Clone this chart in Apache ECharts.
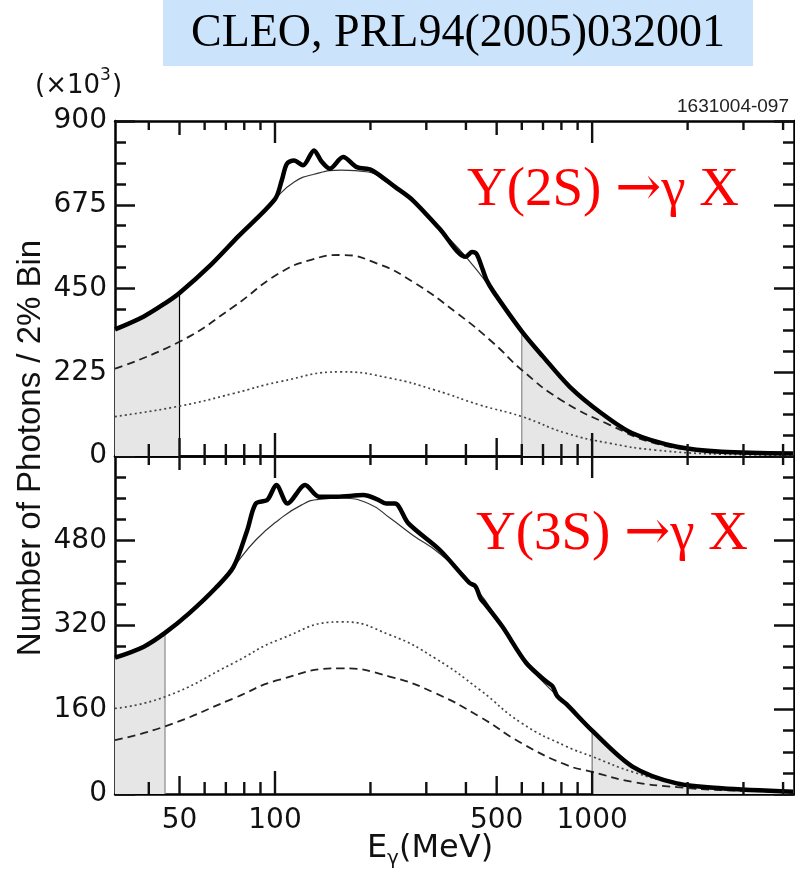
<!DOCTYPE html>
<html>
<head>
<meta charset="utf-8">
<script src="https://cdn.jsdelivr.net/npm/echarts@6/dist/echarts.min.js"></script>
<style>
  html, body { margin: 0; padding: 0; background: #fff; }
  #chart { width: 795px; height: 875px; }
</style>
</head>
<body>
<div id="chart"></div>
<script>
// x axis (E_gamma, MeV), log scale
var xMin = 31.3, xMax = 4330;
var minorTicksX = [40, 60, 70, 80, 90, 200, 300, 400, 600, 700, 800, 900, 2000, 3000, 4000];
var midTicksX = [50, 500];
var majorTicksX = [100, 1000];
var labelsX = [50, 100, 500, 1000];

// y axes (x10^3 photons)
var yMax2S = 900, yStep2S = 225;
var yMax3S = 640, yStep3S = 160;

// Y(2S) panel
var obs2S = [[31.3,340],[38.6,375],[45,410],[50,438],[63,515],[76.6,590],[100,690],[105,740],[109,785],
  [114.8,794],[122.6,781],[132.8,821],[140,792],[149,772],[164,803],[181,776],[202,768],[239,723],
  [272,687],[330,611],[400,535],[418,548],[432,543],[450,505],[465,472],[489,441],[600,335],[700,267],
  [850,186],[1070,115],[1340,61],[1850,25],[2560,11.5],[4300,7]];
var fit2S = [[31.3,340],[38.6,375],[45,410],[50,438],[63,515],[76.6,590],[99,687],[115,736],[132.8,757],
  [162,768],[197,763],[224,736],[272,687],[330,611],[400,535],[489,441],[600,335],[700,267],[850,186],
  [1070,115],[1340,61],[1850,25],[2560,11.5],[4300,7]];
var dashed2S = [[31.3,235],[50,307],[74,401],[102.7,490],[130,527],[162,540],[210,517],[272,468],
  [376,383],[489,303],[600,231],[800,150],[1140,83],[1580,34],[2200,16],[4300,5]];
var dotted2S = [[31.3,106],[50,134],[74,168],[102.7,199],[162,226],[231,209],[320,177],[443,137],
  [600,106],[830,61],[1140,34],[1580,16],[2560,5],[4300,2]];
var cuts2S = [50, 600];

// Y(3S) panel
var obs3S = [[31.3,258],[38.6,279],[45,305],[53.6,342],[65,390],[74,430],[81.8,500],[87,550],[94.6,557],
  [101,585],[109.5,550],[124.5,585],[137.6,563],[156.6,563],[190,566],[210,558],[224,550],[239,550],
  [263,513],[331,462],[410,400],[429,393],[445,370],[458,361],[521,317],[620,248],[720,212],[750,204],
  [775,186],[830,170],[1000,120],[1340,52],[1850,20],[2560,11],[4300,4.4]];
var fit3S = [[31.3,258],[38.6,279],[45,305],[53.6,342],[65,390],[74,430],[87,481],[102.7,519],[121,547],
  [137.6,558],[162,560],[197,550],[231,522],[272,490],[331,455],[429,390],[521,317],[620,248],[830,168],
  [1000,120],[1340,52],[1850,20],[2560,11],[4300,4.4]];
var dotted3S = [[31.3,162],[45,184],[74,248],[102.7,292],[162,326],[231,301],[320,257],[443,197],
  [600,134],[830,90],[1000,71],[1340,42],[1850,20],[2560,9],[4300,4]];
var dashed3S = [[31.3,102],[45,128],[74,181],[102.7,216],[162,238],[231,222],[320,191],[443,146],
  [600,96],[830,55],[1000,42],[1340,23],[1850,13],[2560,7.5],[4300,4]];
var cuts3S = [45, 1000];

var gridLeft = 115, gridW = 679;
var labelFont = 'DejaVu Sans';
var inkColor = '#111';
var frame = { show: true, onZero: false, lineStyle: { color: '#000', width: 2.5 } };

function makeX(grid, pos, labels) {
  return {
    type: 'log', logBase: 10, gridIndex: grid, position: pos, min: xMin, max: xMax,
    axisLine: frame, splitLine: { show: false }, axisTick: { show: false },
    axisLabel: labels ? {
      show: true, customValues: labels, margin: 13, color: '#111',
      fontSize: 28, fontFamily: labelFont,
      formatter: function (v) { return String(Math.round(v)); }
    } : { show: false }
  };
}

// major y axis: frame, labels, long inward ticks
function makeY(grid, pos, max, interval, labels) {
  return {
    type: 'value', gridIndex: grid, position: pos, min: 0, max: max, interval: interval,
    axisLine: frame, splitLine: { show: false },
    axisTick: { show: true, inside: true, length: 20, lineStyle: { color: inkColor, width: 2.5 } },
    axisLabel: labels ? {
      show: true, margin: 8, color: '#111', fontSize: 28, fontFamily: labelFont,
      formatter: function (v) { return v === max && grid === 1 ? '' : String(v); }
    } : { show: false }
  };
}

// minor y ticks: a second axis on the same side with a quarter interval
function makeYMinor(grid, pos, max, interval) {
  return {
    type: 'value', gridIndex: grid, position: pos, min: 0, max: max, interval: interval / 4,
    axisLine: { show: false, onZero: false }, splitLine: { show: false },
    axisTick: { show: true, inside: true, length: 11, lineStyle: { color: inkColor, width: 2.5 } },
    axisLabel: { show: false }
  };
}

var xAxes = [makeX(0, 'bottom', null), makeX(0, 'top', null), makeX(1, 'bottom', labelsX), makeX(1, 'top', null)];
var yAxes = [
  makeY(0, 'left', yMax2S, yStep2S, true), makeY(0, 'right', yMax2S, yStep2S, false),
  makeYMinor(0, 'left', yMax2S, yStep2S), makeYMinor(0, 'right', yMax2S, yStep2S),
  makeY(1, 'left', yMax3S, yStep3S, true), makeY(1, 'right', yMax3S, yStep3S, false),
  makeYMinor(1, 'left', yMax3S, yStep3S), makeYMinor(1, 'right', yMax3S, yStep3S)
];

// x ticks on bottom and top edges, pointing inward; each item sits mid-panel
function xTickSeries(xi, yi, yMax) {
  var vals = [], lens = [];
  [[minorTicksX, 12, 9], [midTicksX, 18, 14], [majorTicksX, 23, 22]].forEach(function (set) {
    set[0].forEach(function (v) { vals.push([v, yMax / 2]); lens.push([set[1], set[2]]); });
  });
  return {
    type: 'custom', xAxisIndex: xi, yAxisIndex: yi, z: 10,
    data: vals,
    renderItem: function (params, api) {
      var x = api.value(0);
      var lo = api.coord([x, 0]), hi = api.coord([x, yMax]);
      var len = lens[params.dataIndex];
      return { type: 'group', children: [
        { type: 'rect', shape: { x: lo[0] - 1.2, y: lo[1] - len[0], width: 2.4, height: len[0] }, style: { fill: inkColor } },
        { type: 'rect', shape: { x: hi[0] - 1.2, y: hi[1], width: 2.4, height: len[1] }, style: { fill: inkColor } }
      ] };
    }
  };
}

function valueAt(arr, x) {
  for (var i = 0; i < arr.length; i++) if (arr[i][0] === x) return arr[i][1];
  return 0;
}

function panel(xi, yi, obs, fit, dashed, dotted, cuts, lineColors) {
  var base = { type: 'line', xAxisIndex: xi, yAxisIndex: yi, symbol: 'none' };
  var left = obs.filter(function (p) { return p[0] <= cuts[0]; });
  var right = obs.filter(function (p) { return p[0] >= cuts[1]; });
  var list = [];
  [left, right].forEach(function (d) {
    list.push(Object.assign({}, base, { data: d, smooth: 0.3, lineStyle: { opacity: 0 },
      areaStyle: { color: '#e6e6e6', opacity: 1 }, z: 1 }));
  });
  cuts.forEach(function (c, k) {
    list.push(Object.assign({}, base, { data: [[c, 0], [c, valueAt(obs, c)]],
      lineStyle: { color: lineColors[k], width: 1.2 }, z: 2 }));
  });
  list.push(Object.assign({}, base, { data: dotted, smooth: 0.5,
    lineStyle: { color: '#444', width: 1.7, type: [2, 3] }, z: 3 }));
  list.push(Object.assign({}, base, { data: dashed, smooth: 0.5,
    lineStyle: { color: '#222', width: 1.8, type: [8, 5] }, z: 3 }));
  list.push(Object.assign({}, base, { data: fit, smooth: 0.5,
    lineStyle: { color: '#333', width: 1.2 }, z: 4 }));
  list.push(Object.assign({}, base, { data: obs, smooth: 0.3,
    lineStyle: { color: '#000', width: 4.5 }, z: 5 }));
  return list;
}

var series = []
  .concat(panel(0, 0, obs2S, fit2S, dashed2S, dotted2S, cuts2S, ['#000', '#888']))
  .concat(panel(2, 4, obs3S, fit3S, dashed3S, dotted3S, cuts3S, ['#888', '#777']))
  .concat([xTickSeries(0, 0, yMax2S), xTickSeries(2, 4, yMax3S)]);

var redRich = { a: { font: '55px "DejaVu Serif"', fill: '#ff0000' } };

var chart = echarts.init(document.getElementById('chart'), null, { renderer: 'canvas' });
chart.setOption({
  animation: false,
  backgroundColor: '#fff',
  tooltip: { show: false },
  grid: [
    { left: gridLeft, top: 121, width: gridW, height: 335 },
    { left: gridLeft, top: 456, width: gridW, height: 338 }
  ],
  xAxis: xAxes,
  yAxis: yAxes,
  series: series,
  graphic: [
    { type: 'rect', shape: { x: 163, y: 0, width: 590, height: 66 }, style: { fill: '#cce4fb' } },
    { type: 'text', x: 458, y: 34, style: { text: 'CLEO, PRL94(2005)032001', fill: '#000',
      font: '46px "Liberation Serif"', align: 'center', verticalAlign: 'middle' } },
    { type: 'text', x: 789, y: 107, style: { text: '1631004-097', fill: '#222',
      font: '19px "Liberation Sans"', align: 'right', verticalAlign: 'middle' } },
    { type: 'text', x: 35, y: 86, style: { text: '(×10', fill: '#111',
      font: '26px "DejaVu Sans"', align: 'left', verticalAlign: 'middle' } },
    { type: 'text', x: 100, y: 76, style: { text: '3', fill: '#111',
      font: '17px "DejaVu Sans"', align: 'left', verticalAlign: 'middle' } },
    { type: 'text', x: 112, y: 86, style: { text: ')', fill: '#111',
      font: '26px "DejaVu Sans"', align: 'left', verticalAlign: 'middle' } },
    { type: 'text', x: 31, y: 448, rotation: Math.PI / 2, style: { text: 'Number of Photons / 2% Bin',
      fill: '#111', font: '33px "Liberation Sans"', align: 'center', verticalAlign: 'middle' } },
    { type: 'text', x: 367, y: 849, style: { text: 'E', fill: '#111',
      font: '32px "DejaVu Sans"', align: 'left', verticalAlign: 'middle' } },
    { type: 'text', x: 387, y: 859, style: { text: 'γ', fill: '#111',
      font: '20px "DejaVu Sans"', align: 'left', verticalAlign: 'middle' } },
    { type: 'text', x: 399, y: 849, style: { text: '(MeV)', fill: '#111',
      font: '32px "DejaVu Sans"', align: 'left', verticalAlign: 'middle' } },
    { type: 'text', x: 467, y: 191, style: { text: 'Υ(2S) {a|→}γ X', fill: '#ff0000', rich: redRich,
      font: '55px "Liberation Serif"', align: 'left', verticalAlign: 'middle' } },
    { type: 'text', x: 476, y: 535, style: { text: 'Υ(3S) {a|→}γ X', fill: '#ff0000', rich: redRich,
      font: '55px "Liberation Serif"', align: 'left', verticalAlign: 'middle' } }
  ]
});
</script>
</body>
</html>
